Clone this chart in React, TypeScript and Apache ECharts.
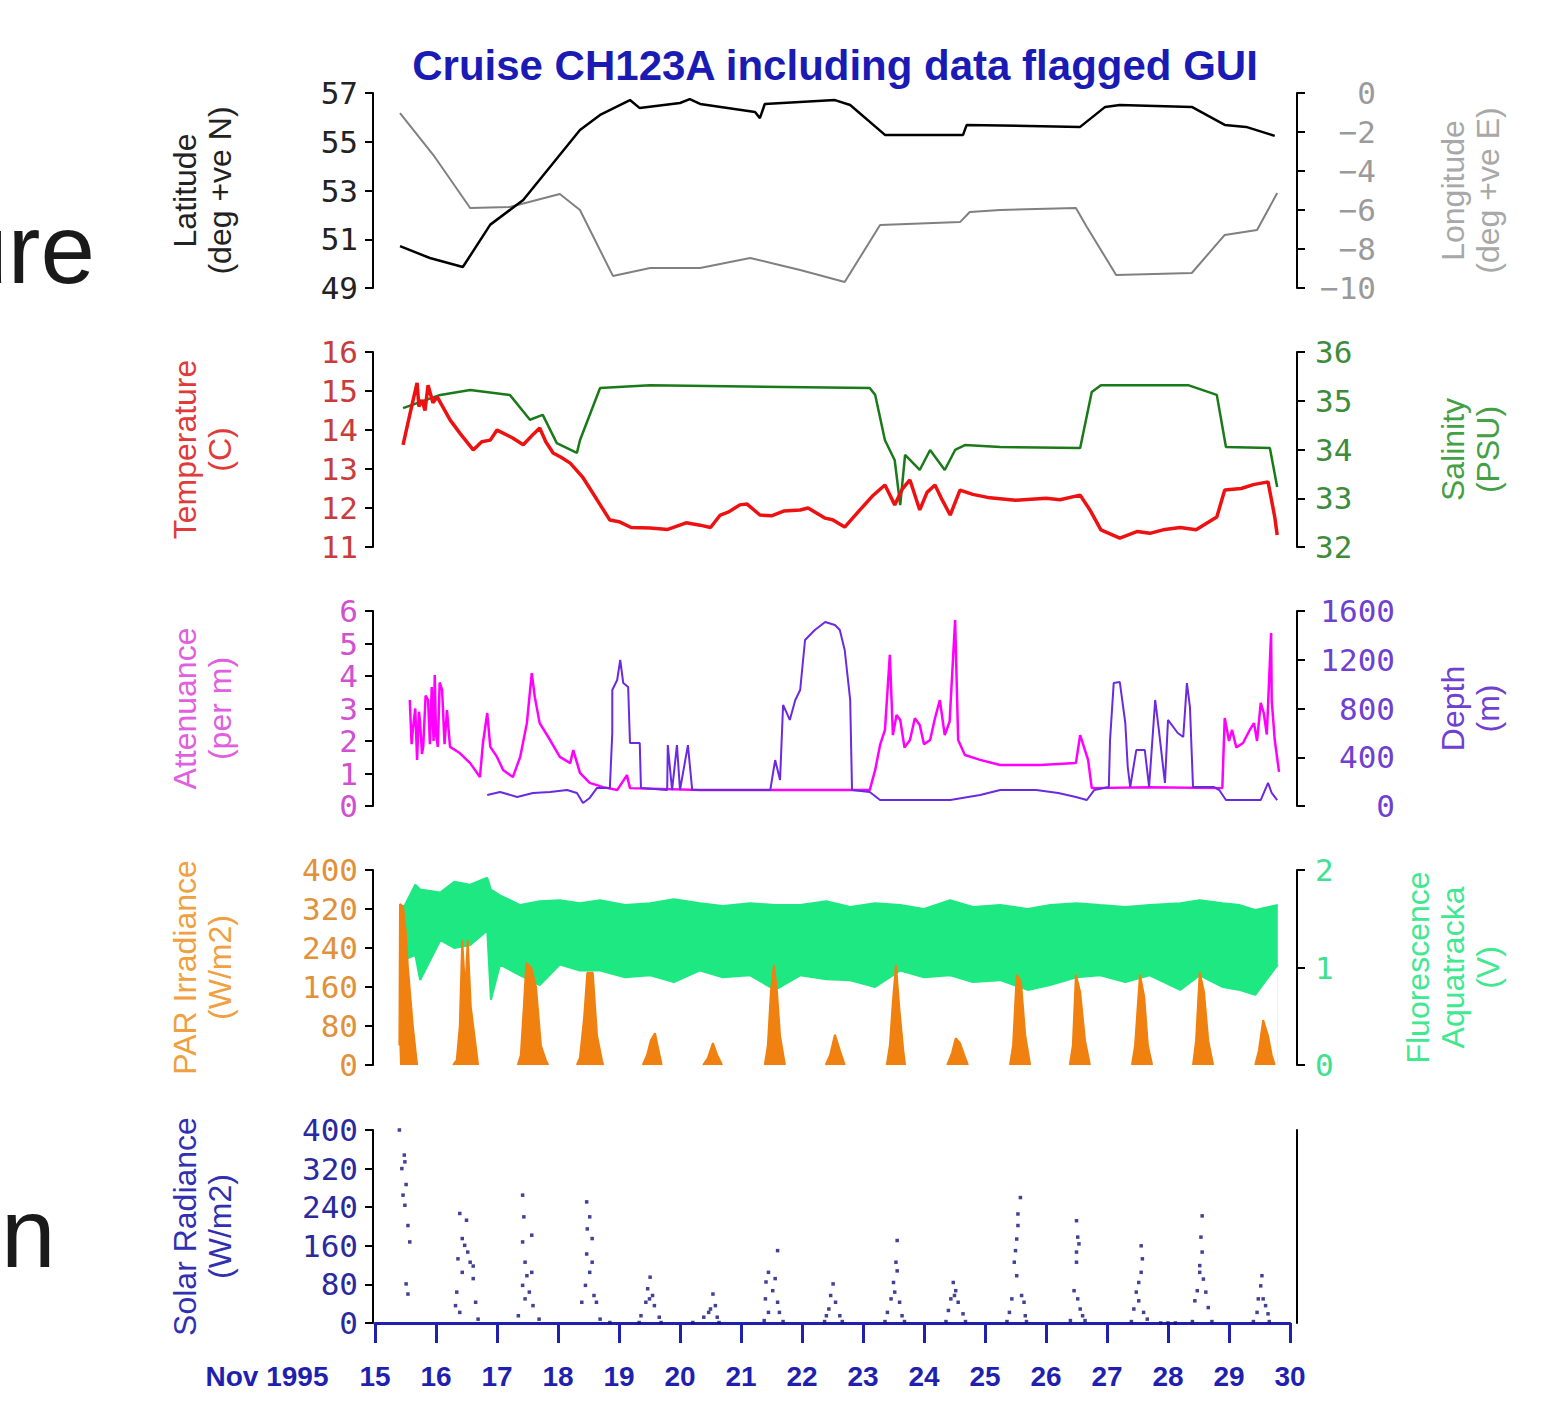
import React, { useEffect, useRef } from 'react';
import * as echarts from 'echarts';

const titleText = 'Cruise CH123A including data flagged GUI';
const monthLabel = 'Nov 1995';

const latitude = [[15.41,50.72],[15.9,50.23],[16.44,49.86],[16.89,51.6],[17.43,52.61],[18.36,55.48],[18.69,56.1],[19.18,56.71],[19.34,56.38],[20.0,56.59],[20.16,56.75],[20.33,56.55],[21.23,56.22],[21.31,55.97],[21.39,56.55],[22.54,56.71],[22.79,56.51],[23.36,55.28],[24.64,55.28],[24.70,55.69],[26.56,55.61],[26.97,56.43],[27.21,56.51],[28.39,56.43],[28.93,55.69],[29.28,55.61],[29.75,55.24]];
const longitude = [[15.41,-1.03],[15.98,-3.28],[16.56,-5.9],[17.21,-5.85],[18.03,-5.18],[18.36,-6.0],[18.9,-9.38],[19.51,-8.97],[20.33,-8.97],[21.15,-8.46],[21.56,-8.77],[21.97,-9.08],[22.7,-9.69],[23.28,-6.77],[24.59,-6.62],[24.75,-6.1],[25.25,-6.0],[26.49,-5.9],[26.67,-6.87],[27.15,-9.33],[28.39,-9.23],[28.93,-7.28],[29.46,-7.03],[29.79,-5.13]];

const temperature = [[15.46,13.62],[15.6,14.6],[15.69,15.21],[15.72,14.6],[15.77,14.77],[15.82,14.5],[15.87,15.15],[15.95,14.7],[16.02,14.85],[16.23,14.26],[16.4,13.9],[16.61,13.49],[16.75,13.7],[16.89,13.74],[17.0,14.0],[17.1,13.92],[17.25,13.8],[17.43,13.62],[17.6,13.9],[17.7,14.05],[17.8,13.7],[17.92,13.41],[18.05,13.3],[18.2,13.15],[18.4,12.8],[18.64,12.21],[18.85,11.69],[19.0,11.65],[19.2,11.5],[19.51,11.49],[19.8,11.45],[20.1,11.62],[20.33,11.56],[20.5,11.5],[20.66,11.82],[20.8,11.9],[20.98,12.08],[21.1,12.1],[21.31,11.82],[21.5,11.8],[21.7,11.92],[21.97,11.95],[22.1,12.0],[22.38,11.74],[22.5,11.7],[22.7,11.51],[22.95,11.95],[23.15,12.3],[23.36,12.59],[23.52,12.08],[23.65,12.5],[23.77,12.72],[23.93,11.95],[24.05,12.4],[24.18,12.59],[24.3,12.2],[24.43,11.82],[24.59,12.46],[24.8,12.35],[25.08,12.26],[25.5,12.2],[26.0,12.25],[26.23,12.21],[26.56,12.33],[26.72,11.95],[26.9,11.44],[27.21,11.23],[27.5,11.4],[27.7,11.35],[27.92,11.44],[28.2,11.5],[28.46,11.44],[28.8,11.77],[28.93,12.46],[29.2,12.5],[29.4,12.6],[29.64,12.67],[29.75,11.77],[29.79,11.31]];
const salinity = [[15.46,34.85],[16.07,35.12],[16.56,35.22],[17.21,35.12],[17.54,34.61],[17.75,34.71],[17.98,34.13],[18.31,33.93],[18.36,34.19],[18.69,35.26],[19.51,35.32],[23.11,35.26],[23.2,35.12],[23.36,34.19],[23.52,33.78],[23.61,32.86],[23.69,33.89],[23.93,33.58],[24.1,33.99],[24.34,33.58],[24.51,33.99],[24.67,34.09],[25.25,34.05],[26.56,34.03],[26.75,35.18],[26.9,35.32],[28.33,35.32],[28.8,35.12],[28.95,34.05],[29.67,34.03],[29.79,33.23]];

const attenuance = [[15.57,3.26],[15.6,1.9],[15.62,2.34],[15.66,3.0],[15.69,1.42],[15.72,2.9],[15.74,2.55],[15.77,1.6],[15.79,1.82],[15.83,3.4],[15.87,3.26],[15.9,1.9],[15.93,3.66],[15.96,2.0],[15.98,4.03],[16.0,2.2],[16.03,1.82],[16.06,3.8],[16.1,3.57],[16.14,1.9],[16.18,2.95],[16.23,1.82],[16.39,1.63],[16.56,1.32],[16.72,0.89],[16.77,1.94],[16.84,2.86],[16.89,1.82],[17.0,1.51],[17.1,1.11],[17.26,0.89],[17.38,1.51],[17.49,2.55],[17.57,4.09],[17.62,3.35],[17.7,2.55],[17.87,2.03],[18.03,1.51],[18.2,1.32],[18.25,1.72],[18.36,1.02],[18.52,0.71],[18.74,0.58],[18.97,0.49],[19.13,0.95],[19.18,0.55],[20.33,0.49],[21.97,0.49],[23.11,0.49],[23.2,1.11],[23.28,1.88],[23.36,2.34],[23.44,4.65],[23.49,2.18],[23.55,2.8],[23.61,2.65],[23.68,1.8],[23.77,2.03],[23.85,2.7],[23.93,2.49],[24.0,1.9],[24.1,2.03],[24.18,2.7],[24.26,3.26],[24.34,2.18],[24.42,2.6],[24.51,5.72],[24.56,2.03],[24.67,1.57],[24.92,1.42],[25.25,1.26],[25.9,1.26],[26.49,1.32],[26.56,2.18],[26.69,1.42],[26.75,0.55],[27.7,0.58],[28.89,0.55],[28.93,2.71],[29.0,2.0],[29.05,2.34],[29.12,1.8],[29.23,1.94],[29.34,2.34],[29.41,2.55],[29.46,2.0],[29.52,3.17],[29.57,2.86],[29.62,2.2],[29.69,5.32],[29.7,3.26],[29.75,2.03],[29.82,1.05]];
const depth = [[16.84,90],[17.05,115],[17.33,74],[17.59,107],[17.87,115],[18.15,131],[18.31,107],[18.41,25],[18.52,66],[18.64,148],[18.85,148],[18.89,600],[18.89,952],[18.97,1034],[19.02,1198],[19.07,1009],[19.15,977],[19.18,517],[19.34,517],[19.36,148],[19.79,131],[19.8,500],[19.87,131],[19.95,500],[20.0,131],[20.13,500],[20.2,131],[21.48,131],[21.56,377],[21.64,213],[21.69,829],[21.8,706],[21.89,870],[21.97,952],[22.05,1362],[22.21,1444],[22.38,1510],[22.54,1485],[22.62,1444],[22.7,1280],[22.79,870],[22.82,131],[23.11,115],[23.28,49],[24.43,49],[24.92,90],[25.25,131],[25.84,131],[26.2,107],[26.49,74],[26.67,49],[26.79,131],[27.03,156],[27.05,541],[27.11,1009],[27.21,1017],[27.3,681],[27.34,320],[27.38,156],[27.48,459],[27.62,459],[27.69,156],[27.79,870],[27.85,624],[27.95,189],[28.0,706],[28.16,599],[28.25,566],[28.31,1009],[28.36,812],[28.41,156],[28.75,156],[28.84,131],[28.95,49],[29.52,49],[29.64,189],[29.7,107],[29.79,49]];

const fluorDays = [15.41,15.49,15.66,15.74,16.07,16.3,16.56,16.84,16.9,17.05,17.38,17.7,18.03,18.36,18.69,19.1,19.51,19.9,20.33,20.7,21.15,21.56,21.97,22.4,22.79,23.2,23.61,24.0,24.43,24.8,25.25,25.7,26.07,26.5,26.89,27.3,27.7,28.2,28.52,28.9,29.18,29.43,29.8];
const fluorLower = [1.1,1.08,1.13,0.87,1.28,1.2,1.23,1.38,0.67,1.03,0.92,0.82,1.03,0.97,0.97,0.9,0.92,0.85,0.97,0.9,0.92,0.77,0.92,0.88,0.87,0.8,0.97,0.9,0.92,0.85,0.87,0.77,0.82,0.9,0.92,0.85,0.92,0.77,0.92,0.8,0.77,0.72,1.03];
const fluorUpper = [1.6,1.64,1.85,1.8,1.77,1.88,1.85,1.92,1.8,1.74,1.64,1.68,1.69,1.66,1.69,1.64,1.66,1.7,1.66,1.63,1.66,1.64,1.64,1.68,1.62,1.66,1.64,1.6,1.69,1.62,1.64,1.6,1.64,1.66,1.64,1.62,1.64,1.66,1.69,1.66,1.64,1.59,1.64];

const parSpikes = [
  [[15.4,40],[15.41,330],[15.46,325],[15.5,280],[15.54,200],[15.62,80],[15.69,0]],
  [[16.28,0],[16.34,10],[16.39,80],[16.43,256],[16.48,150],[16.52,256],[16.57,120],[16.63,60],[16.69,0]],
  [[17.34,0],[17.39,20],[17.44,120],[17.48,209],[17.56,200],[17.64,160],[17.72,40],[17.8,10],[17.84,0]],
  [[18.31,0],[18.36,15],[18.43,100],[18.48,189],[18.57,189],[18.64,60],[18.72,10],[18.74,0]],
  [[19.39,0],[19.46,20],[19.52,50],[19.59,65],[19.64,35],[19.7,0]],
  [[20.38,0],[20.46,15],[20.54,45],[20.61,20],[20.69,0]],
  [[21.39,0],[21.44,40],[21.49,150],[21.54,205],[21.59,150],[21.64,60],[21.72,0]],
  [[22.39,0],[22.46,20],[22.54,62],[22.62,30],[22.7,0]],
  [[23.39,0],[23.44,40],[23.49,130],[23.54,205],[23.6,110],[23.66,30],[23.69,0]],
  [[24.38,0],[24.46,25],[24.52,55],[24.59,45],[24.66,20],[24.72,0]],
  [[25.41,0],[25.46,40],[25.52,185],[25.59,170],[25.66,60],[25.74,0]],
  [[26.39,0],[26.44,40],[26.49,185],[26.56,150],[26.64,50],[26.72,0]],
  [[27.41,0],[27.46,40],[27.54,185],[27.61,140],[27.67,40],[27.74,0]],
  [[28.41,0],[28.46,50],[28.52,190],[28.59,150],[28.66,50],[28.74,0]],
  [[29.43,0],[29.49,30],[29.56,92],[29.64,60],[29.7,20],[29.75,0]],
];

const solar = [
[15.40,400],[15.48,348],[15.49,334],[15.44,320],[15.51,287],[15.46,265],[15.49,244],[15.54,202],[15.57,168],[15.51,81],[15.54,60],
[16.39,227],[16.50,213],[16.43,175],[16.47,161],[16.52,147],[16.36,133],[16.56,126],[16.61,118],[16.43,105],[16.61,92],[16.34,64],[16.65,43],[16.32,36],[16.39,22],[16.69,8],
[17.42,265],[17.44,220],[17.57,182],[17.42,168],[17.46,126],[17.57,105],[17.49,98],[17.42,78],[17.53,64],[17.46,50],[17.59,36],[17.35,15],[17.69,8],
[18.47,251],[18.52,220],[18.48,195],[18.56,175],[18.47,143],[18.56,126],[18.52,105],[18.45,78],[18.59,57],[18.39,43],[18.63,43],[18.69,8],[18.85,1],
[19.51,95],[19.47,71],[19.55,57],[19.50,50],[19.44,43],[19.58,36],[19.36,15],[19.66,12],[19.33,1],[19.69,1],
[20.54,60],[20.58,36],[20.50,29],[20.47,22],[20.39,12],[20.61,12],[20.21,1],[20.64,1],
[21.60,150],[21.45,105],[21.56,92],[21.41,85],[21.52,67],[21.40,50],[21.60,43],[21.45,22],[21.63,22],[21.38,5],[21.69,3],
[22.51,81],[22.47,57],[22.55,43],[22.44,29],[22.40,15],[22.62,15],[22.37,3],[22.66,3],
[23.56,171],[23.54,126],[23.56,108],[23.50,84],[23.52,64],[23.46,50],[23.60,43],[23.40,22],[23.64,15],[23.36,3],[23.68,3],
[24.48,84],[24.52,67],[24.50,57],[24.44,50],[24.56,43],[24.40,26],[24.64,19],[24.36,3],[24.68,3],
[25.58,260],[25.54,226],[25.54,202],[25.52,174],[25.50,150],[25.48,126],[25.52,98],[25.60,57],[25.44,50],[25.64,43],[25.40,22],[25.66,15],[25.36,3],[25.68,3],
[26.50,212],[26.52,178],[26.54,164],[26.50,147],[26.50,126],[26.46,67],[26.52,50],[26.56,29],[26.60,15],[26.64,5],[26.40,5],
[27.56,160],[27.58,133],[27.56,105],[27.52,84],[27.48,64],[27.52,46],[27.44,29],[27.60,22],[27.66,8],[27.40,3],[27.88,0],[28.0,0],[28.12,0],
[28.56,222],[28.54,178],[28.56,147],[28.52,119],[28.52,105],[28.58,91],[28.48,67],[28.62,64],[28.44,46],[28.66,32],[28.40,3],[28.72,3],
[29.54,98],[29.52,77],[29.56,50],[29.48,50],[29.60,36],[29.46,22],[29.64,19],[29.40,3],[29.66,3]
];

const gridTops = [93, 352, 611, 870, 1130];
const gridHeights = [195, 195, 195, 195, 193];

const LABEL_FONT = 'DejaVu Sans Mono';
const NAME_FONT = 'Liberation Sans';
const LABEL_SIZE = 31;

function leftAxis(g: number, min: number, max: number, interval: number, name: string, labelColor: string, nameColor: string) {
  return {
    type: 'value', gridIndex: g, position: 'left', offset: 2, min, max, interval,
    name, nameLocation: 'middle', nameRotate: 90, nameGap: 136,
    nameTextStyle: { color: nameColor, fontFamily: NAME_FONT, fontSize: 32, lineHeight: 35 },
    axisLine: { show: true, lineStyle: { color: '#000', width: 2 } },
    axisTick: { show: true, length: 8, lineStyle: { color: '#000', width: 2 } },
    axisLabel: { color: labelColor, fontFamily: LABEL_FONT, fontSize: LABEL_SIZE, margin: 15 },
    splitLine: { show: false },
  };
}

function rightAxis(g: number, min: number, max: number, interval: number, name: string, labelColor: string, nameColor: string, opts: any = {}) {
  return {
    type: 'value', gridIndex: g, position: 'right', offset: 7, min, max, interval,
    name, nameLocation: 'middle', nameRotate: 90, nameGap: opts.nameGap ?? 138,
    nameTextStyle: { color: nameColor, fontFamily: NAME_FONT, fontSize: 32, lineHeight: 35 },
    axisLine: { show: true, lineStyle: { color: '#000', width: 2 } },
    axisTick: { show: opts.ticks ?? true, length: 8, lineStyle: { color: '#000', width: 2 } },
    axisLabel: {
      show: opts.labels ?? true, color: labelColor, fontFamily: LABEL_FONT, fontSize: LABEL_SIZE,
      margin: opts.margin ?? 10, align: opts.align ?? 'left',
      formatter: (v: number) => (v < 0 ? '\u2212' + Math.abs(v) : String(v)),
    },
    splitLine: { show: false },
  };
}

export default function App() {
  const ref = useRef<HTMLDivElement>(null);
  useEffect(() => {
    if (!ref.current) return;
    const chart = echarts.init(ref.current, null, { renderer: 'svg' });
    const grids = gridTops.map((t, i) => ({ left: 375, width: 915, top: t, height: gridHeights[i] }));
    const xAxes = gridTops.map((_, i) => ({
      type: 'value', gridIndex: i, min: 15, max: 30, interval: 1,
      show: i === 4, position: 'bottom', offset: 12,
      axisLine: { show: true, lineStyle: { color: '#2020b0', width: 3 } },
      axisTick: { show: true, length: 20, lineStyle: { color: '#2020b0', width: 3 } },
      axisLabel: { color: '#1f1fb0', fontFamily: 'Liberation Sans', fontWeight: 'bold', fontSize: 28, margin: 27 },
      splitLine: { show: false },
    }));
    const yAxes = [
      leftAxis(0, 49, 57, 2, 'Latitude\n(deg +ve N)', '#222', '#222'),
      rightAxis(0, -10, 0, 2, 'Longitude\n(deg +ve E)', '#9a9a9a', '#a8a8a8', { align: 'right', margin: 79 }),
      leftAxis(1, 11, 16, 1, 'Temperature\n(C)', '#c83c3c', '#e03a3a'),
      rightAxis(1, 32, 36, 1, 'Salinity\n(PSU)', '#3c8c3c', '#44a044', { margin: 18 }),
      leftAxis(2, 0, 6, 1, 'Attenuance\n(per m)', '#d050d0', '#e060e0'),
      rightAxis(2, 0, 1600, 400, 'Depth\n(m)', '#7040d0', '#7040d0', { align: 'right', margin: 98 }),
      leftAxis(3, 0, 400, 80, 'PAR Irradiance\n(W/m2)', '#e0913a', '#f0a040'),
      rightAxis(3, 0, 2, 1, 'Fluorescence\nAquatracka\n(V)', '#40e090', '#40e890', { margin: 18, nameGap: 103 }),
      leftAxis(4, 0, 400, 80, 'Solar Radiance\n(W/m2)', '#2a2aa0', '#3030b0'),
      rightAxis(4, 0, 400, 80, '', '#000', '#000', { ticks: false, labels: false }),
    ];
    const line = (name: string, data: any, xi: number, yi: number, color: string, width: number, z = 2) => ({
      name, type: 'line', data, xAxisIndex: xi, yAxisIndex: yi, showSymbol: false, symbol: 'none',
      lineStyle: { color, width }, z, silent: true,
    });
    const series: any[] = [
      line('Longitude', longitude, 0, 1, '#808080', 2),
      line('Latitude', latitude, 0, 0, '#000000', 2.5),
      line('Salinity', salinity, 1, 3, '#1a7a1a', 2.5),
      line('Temperature', temperature, 1, 2, '#ee1111', 3.5),
      line('Attenuance', attenuance, 2, 4, '#ff00ff', 2.5),
      line('Depth', depth, 2, 5, '#6a2ae0', 2),
      {
        name: 'FluorUpper', type: 'line', xAxisIndex: 3, yAxisIndex: 7, symbol: 'none', z: 1,
        data: fluorDays.map((d, i) => [d, fluorUpper[i]]),
        lineStyle: { color: '#1ee882', width: 2 }, areaStyle: { color: '#1ee882', opacity: 1 }, silent: true,
      },
      {
        name: 'FluorLower', type: 'line', xAxisIndex: 3, yAxisIndex: 7, symbol: 'none', z: 1,
        data: fluorDays.map((d, i) => [d, fluorLower[i]]),
        lineStyle: { color: '#1ee882', width: 2 }, areaStyle: { color: '#ffffff', opacity: 1 }, silent: true,
      },
      ...parSpikes.map((s, i) => ({
        name: 'PAR' + i, type: 'line', xAxisIndex: 3, yAxisIndex: 6, symbol: 'none', data: s, z: 3,
        lineStyle: { color: '#f08010', width: 2 }, areaStyle: { color: '#f08010', opacity: 1 }, silent: true,
      })),
      {
        name: 'Solar', type: 'scatter', xAxisIndex: 4, yAxisIndex: 8, data: solar, symbol: 'rect',
        symbolSize: 3.5, itemStyle: { color: '#12127e' }, silent: true,
      },
    ];
    chart.setOption({
      animation: false,
      backgroundColor: '#ffffff',
      grid: grids,
      xAxis: xAxes,
      yAxis: yAxes,
      series,
      graphic: [
        { type: 'text', x: 835, y: 65, style: { text: titleText, align: 'center', verticalAlign: 'middle', fill: '#1a1ab4', fontFamily: 'Liberation Sans', fontWeight: 'bold', fontSize: 42 } },
        { type: 'text', x: 267, y: 1376, style: { text: monthLabel, align: 'center', verticalAlign: 'middle', fill: '#1f1fb0', fontFamily: 'Liberation Sans', fontWeight: 'bold', fontSize: 28 } },
        { type: 'text', x: 95, y: 249, style: { text: 'ure', align: 'right', verticalAlign: 'middle', fill: '#1a1a1a', fontFamily: 'Liberation Sans', fontSize: 98 } },
        { type: 'text', x: 1, y: 1233, style: { text: 'n', align: 'left', verticalAlign: 'middle', fill: '#1a1a1a', fontFamily: 'Liberation Sans', fontSize: 98 } },
      ],
    });
    return () => chart.dispose();
  }, []);
  return <div ref={ref} style={{ position: 'absolute', left: 0, top: 0, width: 1565, height: 1404 }} />;
}
